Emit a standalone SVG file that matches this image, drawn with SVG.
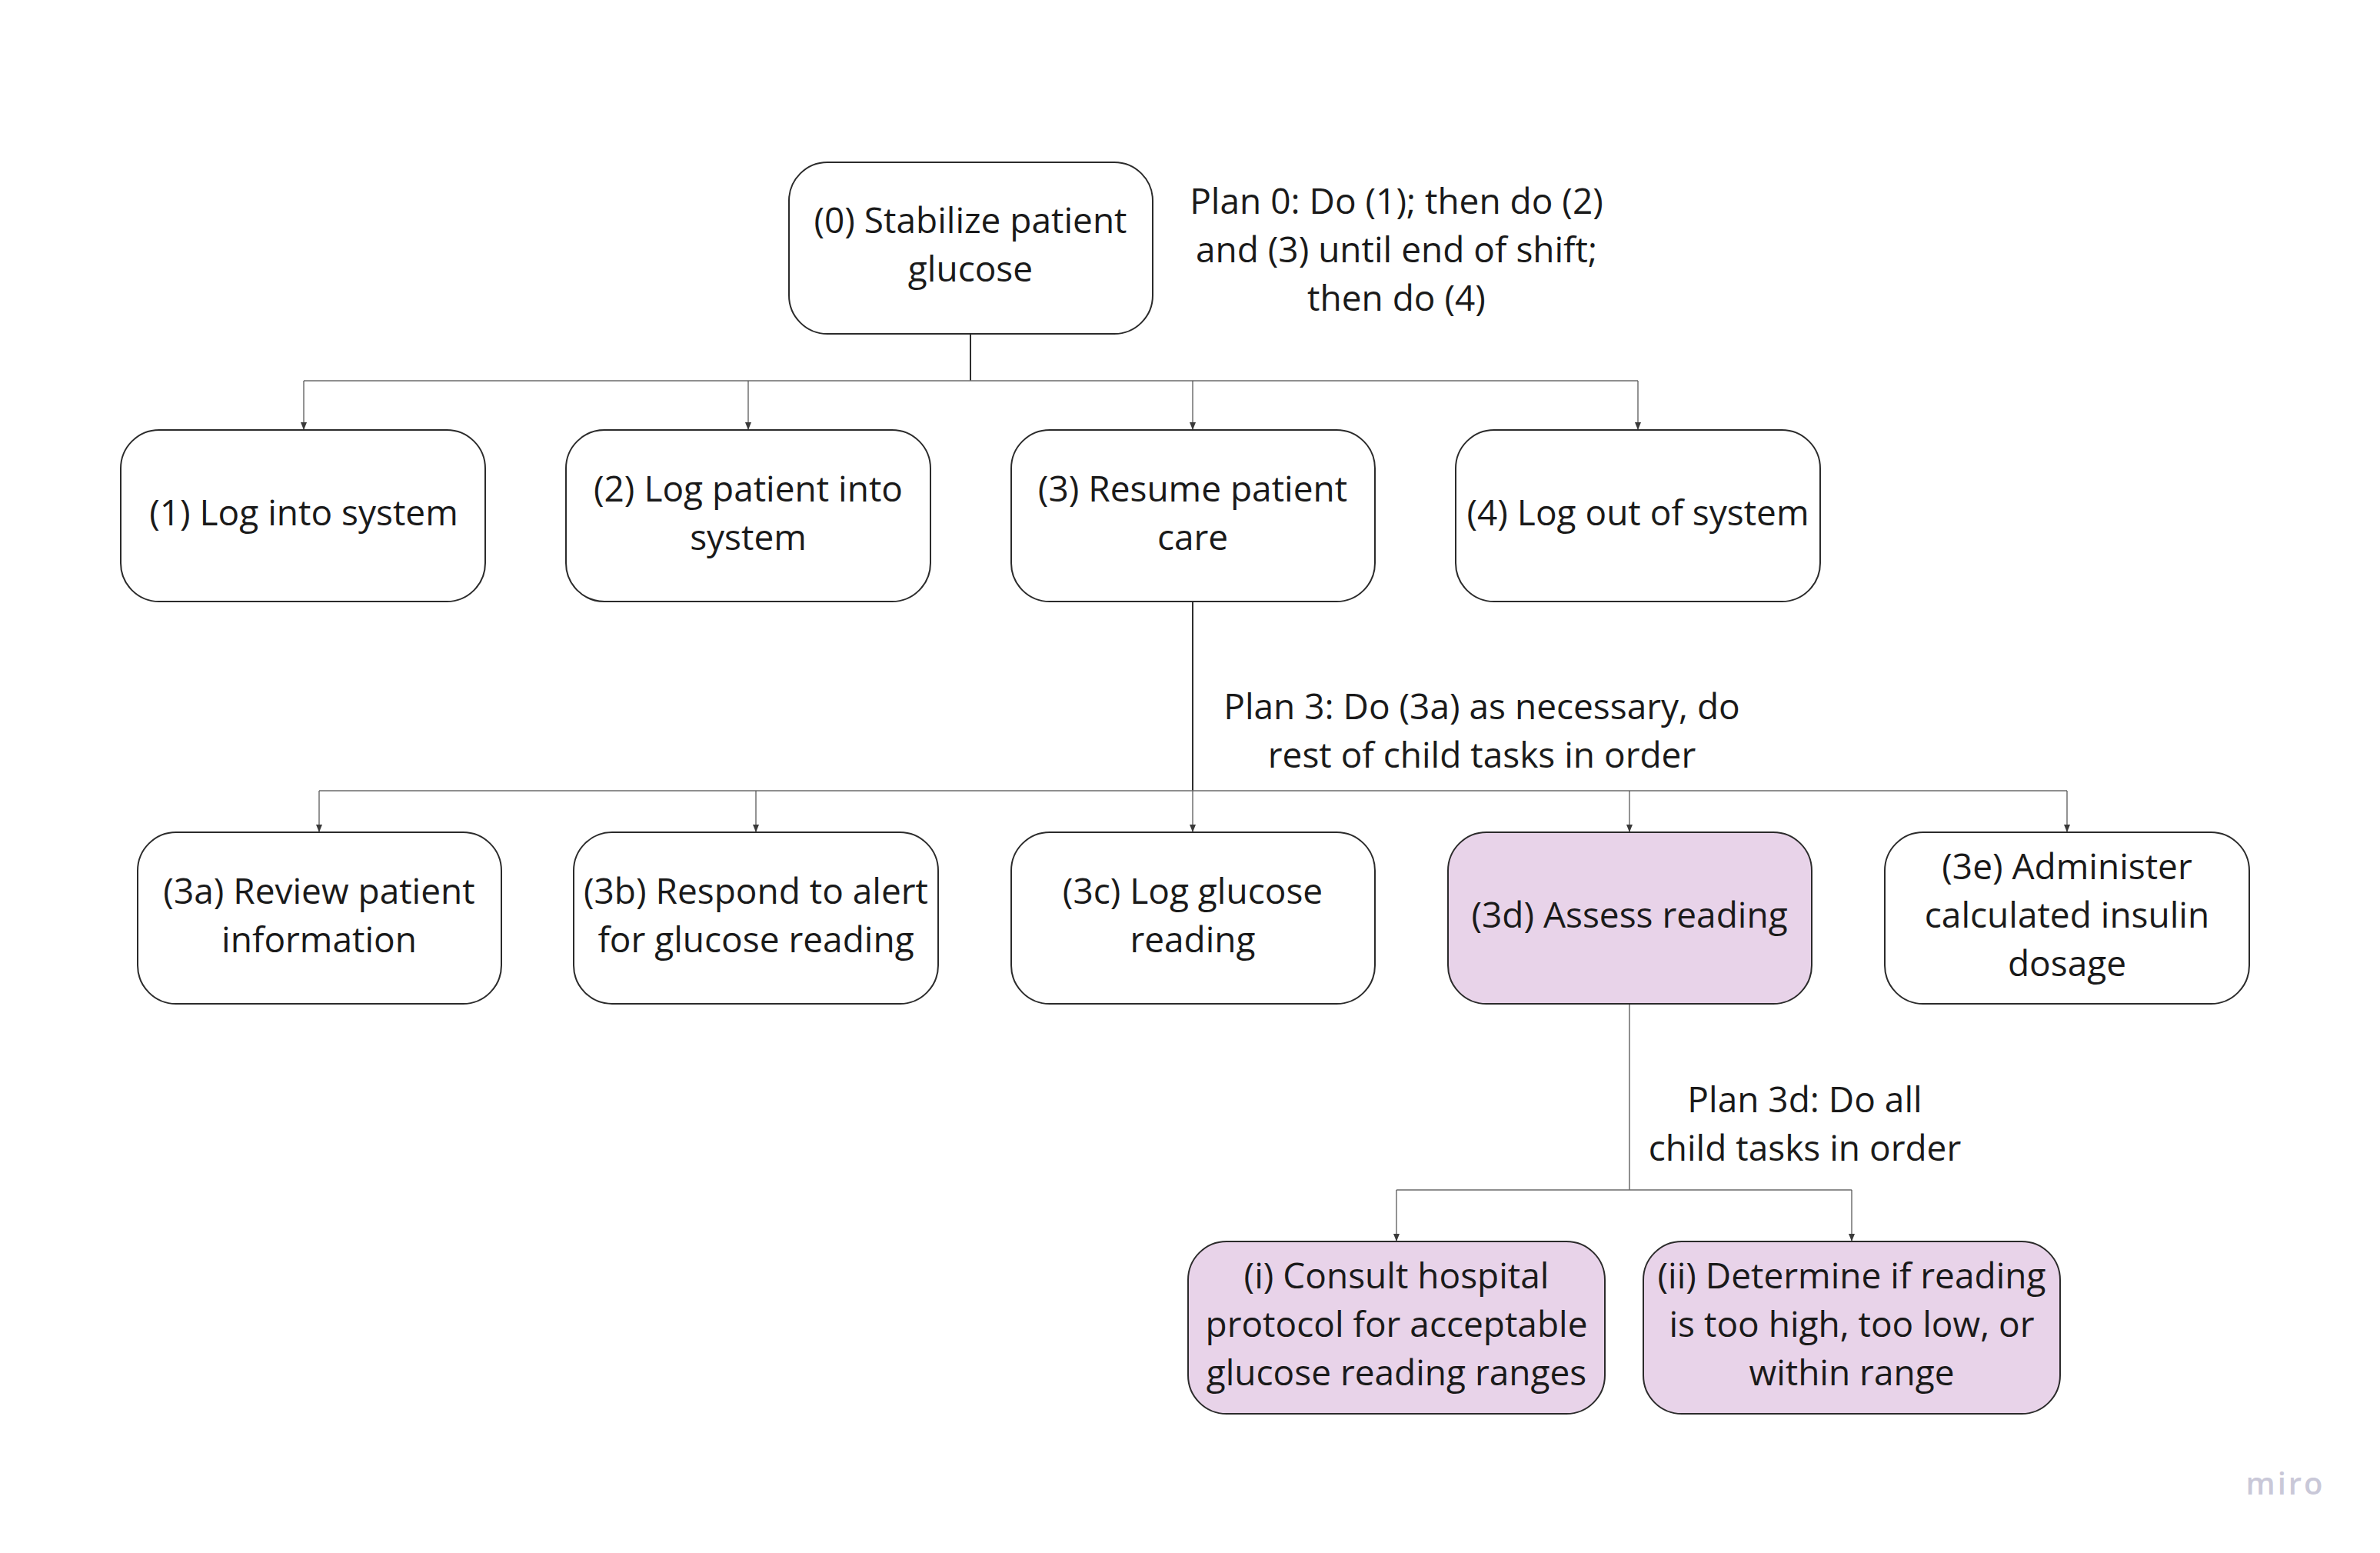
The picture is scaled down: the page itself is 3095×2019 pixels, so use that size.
<svg xmlns="http://www.w3.org/2000/svg" width="3095" height="2019" viewBox="0 0 3095 2019">
<defs>
<marker id="arr" viewBox="0 0 10 10" refX="10" refY="5" markerWidth="10" markerHeight="10" markerUnits="userSpaceOnUse" orient="auto">
<path d="M0,1 L10,5 L0,9 z" fill="#3a3a3a"/>
</marker>
<style>
.box{fill:#ffffff;stroke:#2b2b2b;stroke-width:2}
.hl{fill:#e8d3e9;stroke:#2b2b2b;stroke-width:2}
.t{font-family:"Open Sans","Noto Sans",sans-serif;font-size:46px;fill:#1a1a1a;text-anchor:middle}
.trunk{stroke:#2e2e2e;stroke-width:2;fill:none}
.br{stroke:#6a6a6a;stroke-width:1.5;fill:none}
.ar{stroke:#5a5a5a;stroke-width:1.3;fill:none;marker-end:url(#arr)}
</style>
</defs>
<rect width="3095" height="2019" fill="#ffffff"/>

<g id="connectors">
<path class="trunk" d="M1262,435 V495"/>
<path class="br" d="M395,495 H2130"/>
<path class="ar" d="M395,495 V559"/>
<path class="ar" d="M973,495 V559"/>
<path class="ar" d="M1551,495 V559"/>
<path class="ar" d="M2130,495 V559"/>

<path class="trunk" d="M1551,782 V1028"/>
<path class="br" d="M415,1028 H2688"/>
<path class="ar" d="M415,1028 V1082"/>
<path class="ar" d="M983,1028 V1082"/>
<path class="ar" d="M1551,1028 V1082"/>
<path class="ar" d="M2119,1028 V1082"/>
<path class="ar" d="M2688,1028 V1082"/>

<path class="br" d="M2119,1305 V1547"/>
<path class="br" d="M1816,1547 H2408"/>
<path class="ar" d="M1816,1547 V1614"/>
<path class="ar" d="M2408,1547 V1614"/>
</g>

<g id="n0">
<rect class="box" x="1026" y="211" width="473" height="223" rx="50"/>
<text class="t" x="1262" y="303">(0) Stabilize patient</text>
<text class="t" x="1262" y="366">glucose</text>
</g>
<g id="plan0">
<text class="t" x="1816" y="278">Plan 0: Do (1); then do (2)</text>
<text class="t" x="1816" y="341">and (3) until end of shift;</text>
<text class="t" x="1816" y="404">then do (4)</text>
</g>

<g id="n1">
<rect class="box" x="157" y="559" width="474" height="223" rx="50"/>
<text class="t" x="395" y="683">(1) Log into system</text>
</g>
<g id="n2">
<rect class="box" x="736" y="559" width="474" height="223" rx="50"/>
<text class="t" x="973" y="652">(2) Log patient into</text>
<text class="t" x="973" y="715">system</text>
</g>
<g id="n3">
<rect class="box" x="1315" y="559" width="473" height="223" rx="50"/>
<text class="t" x="1551" y="652">(3) Resume patient</text>
<text class="t" x="1551" y="715">care</text>
</g>
<g id="n4">
<rect class="box" x="1893" y="559" width="474" height="223" rx="50"/>
<text class="t" x="2130" y="683">(4) Log out of system</text>
</g>

<g id="plan3">
<text class="t" x="1927" y="935">Plan 3: Do (3a) as necessary, do</text>
<text class="t" x="1927" y="998">rest of child tasks in order</text>
</g>

<g id="n3a">
<rect class="box" x="179" y="1082" width="473" height="223" rx="50"/>
<text class="t" x="415" y="1175">(3a) Review patient</text>
<text class="t" x="415" y="1238">information</text>
</g>
<g id="n3b">
<rect class="box" x="746" y="1082" width="474" height="223" rx="50"/>
<text class="t" x="983" y="1175">(3b) Respond to alert</text>
<text class="t" x="983" y="1238">for glucose reading</text>
</g>
<g id="n3c">
<rect class="box" x="1315" y="1082" width="473" height="223" rx="50"/>
<text class="t" x="1551" y="1175">(3c) Log glucose</text>
<text class="t" x="1551" y="1238">reading</text>
</g>
<g id="n3d">
<rect class="hl" x="1883" y="1082" width="473" height="223" rx="50"/>
<text class="t" x="2119" y="1206">(3d) Assess reading</text>
</g>
<g id="n3e">
<rect class="box" x="2451" y="1082" width="474" height="223" rx="50"/>
<text class="t" x="2688" y="1143">(3e) Administer</text>
<text class="t" x="2688" y="1206">calculated insulin</text>
<text class="t" x="2688" y="1269">dosage</text>
</g>

<g id="plan3d">
<text class="t" x="2347" y="1446">Plan 3d: Do all</text>
<text class="t" x="2347" y="1509">child tasks in order</text>
</g>

<g id="ni">
<rect class="hl" x="1545" y="1614" width="542" height="224" rx="50"/>
<text class="t" x="1816" y="1675">(i) Consult hospital</text>
<text class="t" x="1816" y="1738">protocol for acceptable</text>
<text class="t" x="1816" y="1801">glucose reading ranges</text>
</g>
<g id="nii">
<rect class="hl" x="2137" y="1614" width="542" height="224" rx="50"/>
<text class="t" x="2408" y="1675">(ii) Determine if reading</text>
<text class="t" x="2408" y="1738">is too high, too low, or</text>
<text class="t" x="2408" y="1801">within range</text>
</g>

<text x="2972" y="1943" font-family="'Open Sans','Noto Sans',sans-serif" font-size="40" font-weight="600" fill="#c9c8d8" text-anchor="middle" letter-spacing="3">miro</text>
</svg>
